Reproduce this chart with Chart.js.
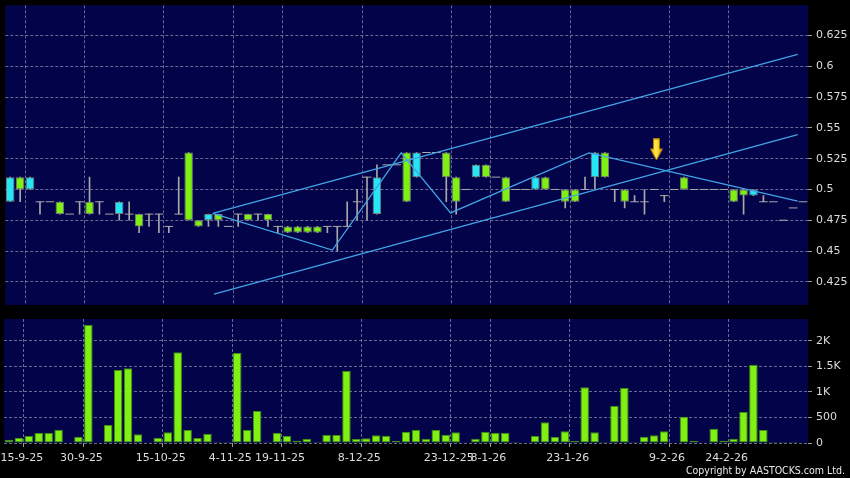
<!DOCTYPE html>
<html lang="en">
<head>
<meta charset="UTF-8">
<title>Price and volume</title>
<script src="https://cdn.jsdelivr.net/npm/chart.js@4.4.1/dist/chart.umd.min.js"></script>
<style>
  body { margin: 0; background: #000; }
  .wrap { position: relative; width: 850px; height: 478px; background: #000; overflow: hidden; }
  #priceChart { position: absolute; left: 0; top: 0; }
  #volChart { position: absolute; left: 0; top: 312px; }
</style>
</head>
<body>
<div class="wrap">
  <canvas id="priceChart" width="850" height="312"></canvas>
  <canvas id="volChart" width="850" height="166"></canvas>
</div>
<script>
// one entry per trading slot, left to right
const openP = [0.49,0.51,0.50,0.49,0.49,0.49,0.48,0.49,0.49,0.49,
  0.48,0.48,0.48,0.48,0.48,0.48,0.47,0.48,0.53,0.475,
  0.475,0.48,0.47,0.48,0.48,0.48,0.48,0.47,0.47,0.47,
  0.47,0.47,0.47,0.47,0.47,0.49,0.51,0.48,0.52,0.52,
  0.53,0.51,0.53,0.53,0.53,0.51,0.50,0.51,0.52,0.51,
  0.51,0.50,0.50,0.50,0.51,0.50,0.50,0.50,0.50,0.51,
  0.53,0.50,0.50,0.49,0.49,0.50,0.495,0.50,0.51,0.50,
  0.50,0.50,0.50,0.50,0.50,0.495,0.49,0.49,0.475,0.485,0.49];
const highP = [0.51,0.51,0.51,0.49,0.49,0.49,0.48,0.49,0.51,0.49,
  0.48,0.49,0.49,0.48,0.48,0.48,0.47,0.51,0.53,0.475,
  0.48,0.48,0.47,0.48,0.48,0.48,0.48,0.47,0.47,0.47,
  0.47,0.47,0.47,0.47,0.49,0.50,0.51,0.52,0.52,0.52,
  0.53,0.53,0.53,0.53,0.53,0.51,0.50,0.52,0.52,0.51,
  0.51,0.50,0.50,0.51,0.51,0.50,0.50,0.50,0.51,0.53,
  0.53,0.50,0.50,0.495,0.50,0.50,0.495,0.50,0.51,0.50,
  0.50,0.50,0.50,0.50,0.50,0.50,0.495,0.49,0.475,0.485,0.49];
const lowP = [0.49,0.49,0.50,0.48,0.49,0.48,0.48,0.48,0.48,0.48,
  0.48,0.475,0.475,0.465,0.47,0.465,0.465,0.48,0.475,0.47,
  0.47,0.47,0.47,0.47,0.475,0.475,0.47,0.465,0.465,0.465,
  0.465,0.465,0.465,0.45,0.47,0.475,0.475,0.48,0.52,0.52,
  0.49,0.51,0.53,0.53,0.49,0.48,0.50,0.51,0.51,0.51,
  0.49,0.50,0.50,0.50,0.50,0.50,0.485,0.49,0.50,0.50,
  0.51,0.49,0.485,0.49,0.48,0.50,0.49,0.50,0.50,0.50,
  0.50,0.50,0.50,0.49,0.48,0.495,0.49,0.49,0.475,0.485,0.49];
const closeP = [0.51,0.50,0.51,0.49,0.49,0.48,0.48,0.49,0.48,0.49,
  0.48,0.49,0.48,0.47,0.48,0.48,0.47,0.48,0.475,0.47,
  0.48,0.475,0.47,0.48,0.475,0.48,0.475,0.47,0.465,0.465,
  0.465,0.465,0.47,0.47,0.47,0.49,0.51,0.51,0.52,0.52,
  0.49,0.53,0.53,0.53,0.51,0.49,0.50,0.52,0.51,0.51,
  0.49,0.50,0.50,0.51,0.50,0.50,0.49,0.49,0.50,0.53,
  0.51,0.50,0.49,0.49,0.49,0.50,0.495,0.50,0.50,0.50,
  0.50,0.50,0.50,0.49,0.495,0.50,0.49,0.49,0.475,0.485,0.49];
const volume = [65,104,137,195,195,260,0,124,2306,0,
  352,1427,1459,169,5,98,208,1772,254,98,
  182,26,20,1759,254,625,26,202,137,46,
  78,26,156,156,1414,78,91,150,143,39,
  221,254,78,254,163,208,13,85,221,202,
  202,20,0,137,404,117,228,39,1088,208,
  26,723,1075,20,124,150,228,0,515,39,
  6,280,46,85,606,1531,254,20,20,20,0];

const dateLabels = ['15-9-25','30-9-25','15-10-25','4-11-25','19-11-25','8-12-25','23-12-25','8-1-26','23-1-26','9-2-26','24-2-26'];
const labelSlots = [2, 8, 16, 23, 28, 36, 45, 49, 57, 67, 73];
const priceTicks = [0.425, 0.45, 0.475, 0.5, 0.525, 0.55, 0.575, 0.6, 0.625];
const volTicks = [0, 500, 1000, 1500, 2000];
const volTickLabels = ['0', '500', '1K', '1.5K', '2K'];

// drawn trend lines: [slot, price]
const upperChannel = [[20.43, 0.4805], [79.46, 0.6097]];
const lowerChannel = [[20.56, 0.4151], [79.46, 0.5446]];
const zigzag = [[20.43, 0.4805], [32.5, 0.4508], [39.45, 0.5297], [44.43, 0.481], [58.4, 0.5297], [79.46, 0.4905]];
const arrowAt = [65.2, 0.5325];

const NAVY = '#03034a';
const GRID = 'rgba(140,140,175,0.75)';
const TXT = '#dcdcdc';
const CYAN = '#26e6f6';
const GREEN = '#80f012';
const WICK = '#a8a8a8';
const LINE = '#40a4e6';
const FONT = { family: 'DejaVu Sans', size: 11 };

const slots = closeP.map((_, i) => i);
const toXY = pts => pts.map(p => ({ x: p[0], y: p[1] }));

const plotBg = {
  id: 'plotBg',
  beforeDraw(c) {
    const a = c.chartArea;
    c.ctx.save();
    c.ctx.fillStyle = NAVY;
    c.ctx.fillRect(a.left, a.top, a.right - a.left, a.bottom - a.top);
    c.ctx.restore();
  }
};

function xAxis(showLabels) {
  return {
    type: 'linear', min: -0.5, max: 80.5, offset: false,
    afterBuildTicks: s => { s.ticks = labelSlots.map(n => ({ value: n - 0.5 })); },
    afterFit: s => { s.height = showLabels ? 35 : 0; s.paddingLeft = 0; s.paddingRight = 0; },
    grid: { offset: false, color: GRID, drawTicks: showLabels, tickLength: 4, tickColor: '#9a9a9a', tickBorderDash: [] },
    border: { display: false, dash: [3, 2] },
    ticks: {
      display: showLabels, autoSkip: false, maxRotation: 0, color: TXT, font: FONT, padding: 5, labelOffset: -2,
      callback: v => dateLabels[labelSlots.indexOf(v + 0.5)]
    }
  };
}

function yFit(s) {
  s.width = 42;
  s.paddingTop = 0;
  s.paddingBottom = 0;
}

// arrow marker image
const arrowImg = document.createElement('canvas');
arrowImg.width = 13; arrowImg.height = 22;
(function () {
  const a = arrowImg.getContext('2d');
  const g = a.createLinearGradient(0, 0, 13, 0);
  g.addColorStop(0, '#e8a000'); g.addColorStop(0.45, '#fff04a'); g.addColorStop(1, '#e09a00');
  a.fillStyle = g;
  a.beginPath();
  a.moveTo(3.5, 0.5); a.lineTo(9.5, 0.5); a.lineTo(9.5, 10.5); a.lineTo(12.5, 10.5);
  a.lineTo(6.5, 21.5); a.lineTo(0.5, 10.5); a.lineTo(3.5, 10.5); a.closePath();
  a.fill();
  a.strokeStyle = '#b87800'; a.lineWidth = 1; a.stroke();
})();

const bodyIdx = slots.filter(i => openP[i] !== closeP[i]);

new Chart(document.getElementById('priceChart'), {
  type: 'bar',
  data: {
    datasets: [
      {
        label: 'wick', order: 5, grouped: false, barThickness: 1,
        data: slots.filter(i => highP[i] > lowP[i]).map(i => ({ x: i, y: [lowP[i], highP[i]] })),
        backgroundColor: WICK
      },
      {
        label: 'body', order: 4, grouped: false, barPercentage: 0.86, categoryPercentage: 1,
        data: bodyIdx.map(i => ({ x: i, y: [openP[i], closeP[i]] })),
        backgroundColor: bodyIdx.map(i => closeP[i] > openP[i] ? CYAN : GREEN),
        borderColor: 'rgba(120,130,120,0.95)', borderWidth: 1, borderSkipped: false
      },
      {
        type: 'scatter', label: 'flat', order: 4,
        data: slots.filter(i => openP[i] === closeP[i]).map(i => ({ x: i, y: closeP[i] })),
        pointStyle: 'line', pointRadius: 4.3, borderColor: WICK, borderWidth: 1
      },
      { type: 'line', order: 2, data: toXY(upperChannel), borderColor: LINE, borderWidth: 1.3, pointRadius: 0 },
      { type: 'line', order: 2, data: toXY(lowerChannel), borderColor: LINE, borderWidth: 1.3, pointRadius: 0 },
      { type: 'line', order: 2, data: toXY(zigzag), borderColor: LINE, borderWidth: 1.3, pointRadius: 0, tension: 0 },
      { type: 'scatter', order: 1, data: [{ x: arrowAt[0], y: arrowAt[1] }], pointStyle: arrowImg }
    ]
  },
  options: {
    responsive: false, animation: false, devicePixelRatio: 1,
    layout: { padding: { left: 4, top: 5, right: 0, bottom: 7 } },
    plugins: { legend: { display: false }, tooltip: { enabled: false } },
    scales: {
      x: xAxis(false),
      y: {
        position: 'right', min: 0.4062, max: 0.6495,
        afterBuildTicks: s => { s.ticks = priceTicks.map(v => ({ value: v })); },
        afterFit: yFit,
        ticks: { color: TXT, font: FONT, padding: 4, callback: v => String(v) },
        grid: { color: GRID, tickLength: 4, tickColor: '#9a9a9a', tickBorderDash: [] },
        border: { display: false, dash: [3, 2] }
      }
    }
  },
  plugins: [plotBg]
});

const copyright = {
  id: 'copyright',
  afterDraw(c) {
    const ctx = c.ctx;
    ctx.save();
    ctx.font = '10.5px "DejaVu Sans Condensed", "Liberation Sans Narrow", "DejaVu Sans"';
    ctx.fillStyle = '#e8e8e8';
    ctx.textAlign = 'right';
    ctx.textBaseline = 'alphabetic';
    ctx.fillText('Copyright by AASTOCKS.com Ltd.', 845, 162);
    ctx.restore();
  }
};

new Chart(document.getElementById('volChart'), {
  type: 'bar',
  data: {
    datasets: [{
      label: 'volume', barPercentage: 0.86, categoryPercentage: 1,
      data: slots.map(i => ({ x: i, y: volume[i] })),
      backgroundColor: GREEN, borderColor: '#3f8f14', borderWidth: 1, borderSkipped: false
    }]
  },
  options: {
    responsive: false, animation: false, devicePixelRatio: 1,
    layout: { padding: { left: 4, top: 7, right: 0, bottom: 0 } },
    plugins: { legend: { display: false }, tooltip: { enabled: false } },
    scales: {
      x: xAxis(true),
      y: {
        position: 'right', min: 0, max: 2423,
        afterBuildTicks: s => { s.ticks = volTicks.map(v => ({ value: v })); },
        afterFit: yFit,
        ticks: { color: TXT, font: FONT, padding: 4, callback: v => volTickLabels[volTicks.indexOf(v)] },
        grid: { color: GRID, tickLength: 4, tickColor: '#9a9a9a', tickBorderDash: [] },
        border: { display: false, dash: [3, 2] }
      }
    }
  },
  plugins: [plotBg, copyright]
});
</script>
</body>
</html>
